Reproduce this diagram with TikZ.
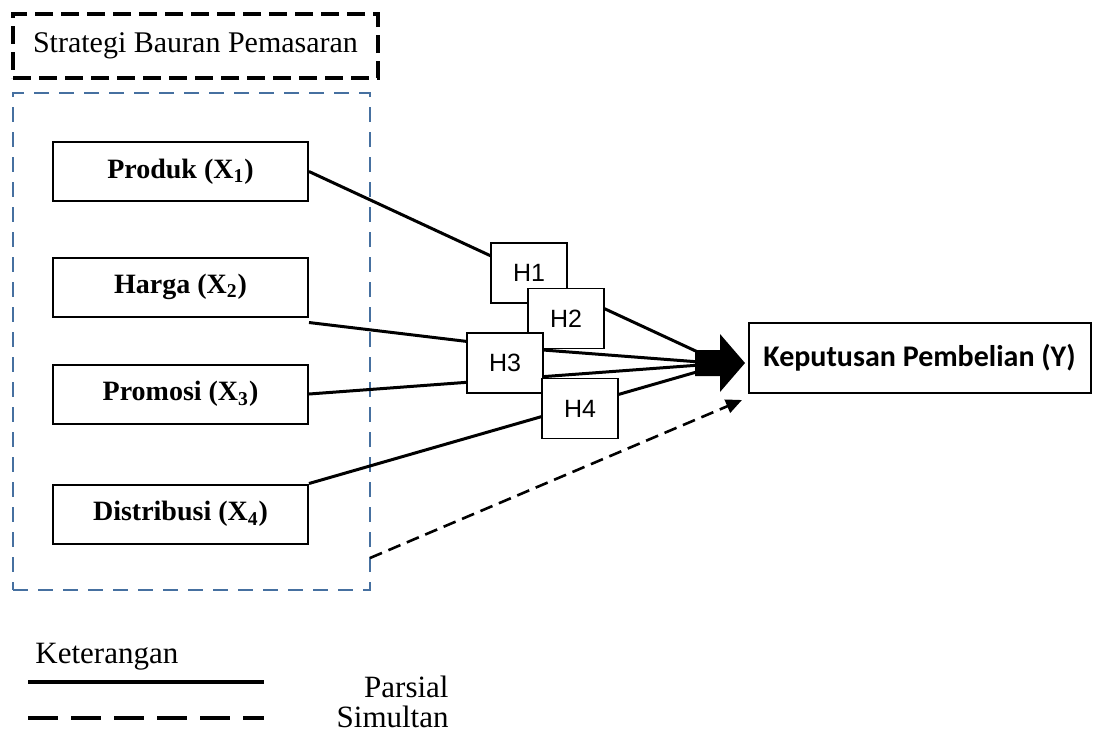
\documentclass[tikz,border=0pt]{standalone}
\usepackage{fontspec}
\setmainfont{Liberation Serif}
\newfontfamily\hfont{Liberation Sans}
\newfontfamily\yfont{Carlito}
\usetikzlibrary{arrows.meta, positioning, calc}
\definecolor{groupblue}{RGB}{70,112,160}
\tikzset{%
	xvar/.style={draw, rectangle, line width=1pt, minimum width=127.5pt, minimum height=29.5pt,%
		inner sep=0pt, font=\fontsize{14}{16}\selectfont\bfseries},
	hyp/.style={draw, rectangle, line width=0.9pt, fill=white, minimum width=38pt,%
		minimum height=30pt, inner sep=0pt, font=\hfont\fontsize{12.5}{14}\selectfont},
	yvar/.style={draw, rectangle, line width=1pt, minimum width=171pt, minimum height=35pt,%
		inner sep=0pt, font=\yfont\fontsize{15}{17}\selectfont\bfseries},
	mixbox/.style={draw, rectangle, line width=1.6pt, dash pattern=on 9pt off 4pt,%
		minimum width=182.5pt, minimum height=32pt, font=\fontsize{15}{18}\selectfont},
	groupbox/.style={draw=groupblue, rectangle, line width=1.1pt, dash pattern=on 7.5pt off 5pt,%
		minimum width=178.5pt, minimum height=248.5pt},
	connector/.style={line width=1.5pt},
	simul/.style={line width=1.3pt, dash pattern=on 6.5pt off 3.5pt,%
		-{Triangle[length=8pt,width=7pt]}},
	legendline/.style={line width=2pt},
	legendtext/.style={inner sep=0pt, font=\fontsize{15.5}{18}\selectfont}
}

\begin{document}
\begin{tikzpicture}[x=0.5pt, y=-0.5pt]
	\useasboundingbox (0,0) rectangle (1093,736);

	\node[mixbox]   (mix)   at (195.5,46)  {Strategi Bauran Pemasaran};
	\node[groupbox] (group) at (191.5,341.5) {};

	\node[xvar] (x1) at (180.5,171.5) {Produk (X\textsubscript{1})};
	\node[xvar] (x2) at (180.5,287)   {Harga (X\textsubscript{2})};
	\node[xvar] (x3) at (180.5,394)   {Promosi (X\textsubscript{3})};
	\node[xvar] (x4) at (180.5,514)   {Distribusi (X\textsubscript{4})};

	\node[yvar] (y) at (919.5,358) {Keputusan Pembelian (Y)};

	\coordinate (fan)   at (695,363);
	\coordinate (in1)   at (700,353);
	\coordinate (in2)   at (700,362);
	\coordinate (in3)   at (700,365);
	\coordinate (in4)   at (700,371);
	\coordinate (bend2) at (530,349);

	\draw[connector] (x1.east) -- (in1);
	\draw[connector] ($(x2.south east)+(0,5)$) -- (bend2) -- (in2);
	\draw[connector] (x3.east) -- (in3);
	\draw[connector] (x4.north east) -- (in4);

	\node[hyp] (h1) at (529,273)   {H1};
	\node[hyp] (h2) at (566,318.5) {H2};
	\node[hyp] (h3) at (505,363)   {H3};
	\node[hyp] (h4) at (580,408.5) {H4};

	% block arrow into Y
	\fill ($(fan)+(0,-13)$) -- ++(25,0) -- ++(0,-16) -- ++(25,29) -- ++(-25,29)
		-- ++(0,-16) -- ++(-25,0) -- cycle;

	\coordinate (simstart) at (370,558);
	\coordinate (simend)   at (742,400);
	\draw[simul] (simstart) -- (simend);

	% legend
	\node[legendtext, anchor=base west] (ket) at (35,663)  {Keterangan};
	\coordinate (l1a) at (28,682);
	\coordinate (l1b) at (264,682);
	\coordinate (l2a) at (28,718);
	\coordinate (l2b) at (264,718);
	\draw[legendline] (l1a) -- (l1b);
	\draw[legendline, dash pattern=on 15pt off 6.5pt] (l2a) -- (l2b);
	\node[legendtext, anchor=base east] (par) at (449,697) {Parsial};
	\node[legendtext, anchor=base east] (sim) at (449,727) {Simultan};
\end{tikzpicture}
\end{document}
